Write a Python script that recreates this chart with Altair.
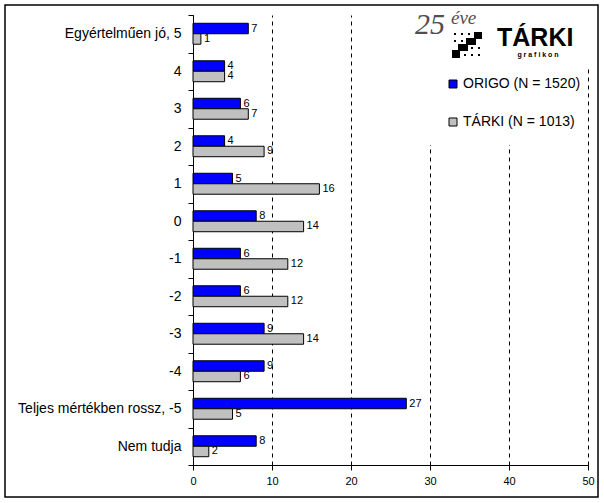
import altair as alt
import pandas as pd

categories = ["Egyértelműen jó, 5", "4", "3", "2", "1", "0", "-1", "-2", "-3", "-4",
              "Teljes mértékben rossz, -5", "Nem tudja"]
series_names = ["ORIGO (N = 1520)", "TÁRKI (N = 1013)"]
origo = [7, 4, 6, 4, 5, 8, 6, 6, 9, 9, 27, 8]
tarki = [1, 4, 7, 9, 16, 14, 12, 12, 14, 6, 5, 2]
x_ticks = [0, 10, 20, 30, 40, 50]
colors = ["#0000FF", "#C0C0C0"]

rows = []
for c, a, b in zip(categories, origo, tarki):
    rows.append({"cat": c, "series": series_names[0], "value": a})
    rows.append({"cat": c, "series": series_names[1], "value": b})
df = pd.DataFrame(rows)

FONT = "Liberation Sans"
W, H = 395, 450

y_enc = alt.Y("cat:N", sort=categories,
              scale=alt.Scale(paddingInner=0, paddingOuter=0),
              axis=alt.Axis(title=None, tickBand="extent", tickSize=5, tickColor="black",
                            domainColor="black", labelFontSize=14, labelColor="black",
                            labelFont=FONT, labelPadding=7, grid=False))
yoff = alt.YOffset("series:N", sort=series_names,
                   scale=alt.Scale(paddingInner=0, paddingOuter=0.79))
x_enc = alt.X("value:Q", scale=alt.Scale(domain=[0, 50], nice=False),
              axis=alt.Axis(title=None, values=x_ticks, grid=True, gridColor="black",
                            gridDash=[4, 4], gridWidth=1, tickSize=5, tickColor="black",
                            domainColor="black", labelFontSize=11, labelColor="black",
                            labelFont=FONT, labelPadding=5, labelFlush=False))

base = alt.Chart(df)

bars = base.mark_bar(stroke="black", strokeWidth=1).encode(
    x=x_enc,
    y=y_enc,
    yOffset=yoff,
    color=alt.Color("series:N", sort=series_names,
                    scale=alt.Scale(domain=series_names, range=colors),
                    legend=alt.Legend(title=None, orient="none", legendX=253, legendY=62,
                                      padding=0, symbolType="square", symbolSize=64,
                                      symbolStrokeColor="black", symbolStrokeWidth=1,
                                      labelFontSize=14, labelFont=FONT, labelColor="black",
                                      rowPadding=24, labelOffset=3)),
)

labels = base.mark_text(align="left", baseline="middle", dx=3, fontSize=11,
                        font=FONT, color="black").encode(
    x=alt.X("value:Q"),
    y=alt.Y("cat:N", sort=categories),
    yOffset=yoff,
    text="value:Q",
)

one = pd.DataFrame({"k": [0]})


def box(x, x2, y, y2, **kw):
    return alt.Chart(one).mark_rect(**kw).encode(
        x=alt.value(x), x2=alt.value(x2), y=alt.value(y), y2=alt.value(y2))


cover1 = box(207, 401, -1, 52, fill="white")
cover2 = box(207, 392, 52, 130, fill="white")
border = box(-188, 405, -10, 482, filled=False, stroke="black", strokeWidth=1.5)

# logo icon (decoration)
icon_blocks = [(281, 289, 17, 24), (273, 283, 23, 30), (265, 275, 29, 36), (259, 267, 35, 43)]
icon_dots = [(262, 19), (269, 19), (276, 19), (262, 26), (269, 26),
             (279, 33), (286, 33), (272, 40), (279, 40), (286, 40)]
icon_layers = [box(a, b, c, d, fill="black") for a, b, c, d in icon_blocks]
icon_layers += [box(px - 1, px + 1, py - 1, py + 1, fill="black") for px, py in icon_dots]


def label(txt, x, y, **kw):
    return alt.Chart(one).mark_text(**kw).encode(
        x=alt.value(x), y=alt.value(y), text=alt.value(txt))


t25 = label("25", 222, 19, font="Liberation Serif", fontStyle="italic", fontSize=30,
            color="#505050", align="left", baseline="alphabetic")
teve = label("éve", 258, 9, font="Liberation Serif", fontStyle="italic", fontSize=19,
             color="#505050", align="left", baseline="alphabetic")
ttarki = label("TÁRKI", 304, 31, font=FONT, fontWeight="bold", fontSize=25,
               color="black", align="left", baseline="alphabetic")
tgraf = label("g  r  a  f  i  k  o  n", 345, 40, font=FONT, fontWeight="bold", fontSize=7,
              color="black", align="center", baseline="middle")

chart = alt.layer(bars, labels, cover1, cover2, *icon_layers, t25, teve, ttarki, tgraf,
                  border).properties(
    width=W, height=H,
    autosize=alt.AutoSizeParams(type="none"),
    padding={"left": 193, "top": 15, "right": 16, "bottom": 38},
    background="white",
).configure_view(stroke=None)

chart.save("out.html", embed_options={"renderer": "svg", "actions": False})
